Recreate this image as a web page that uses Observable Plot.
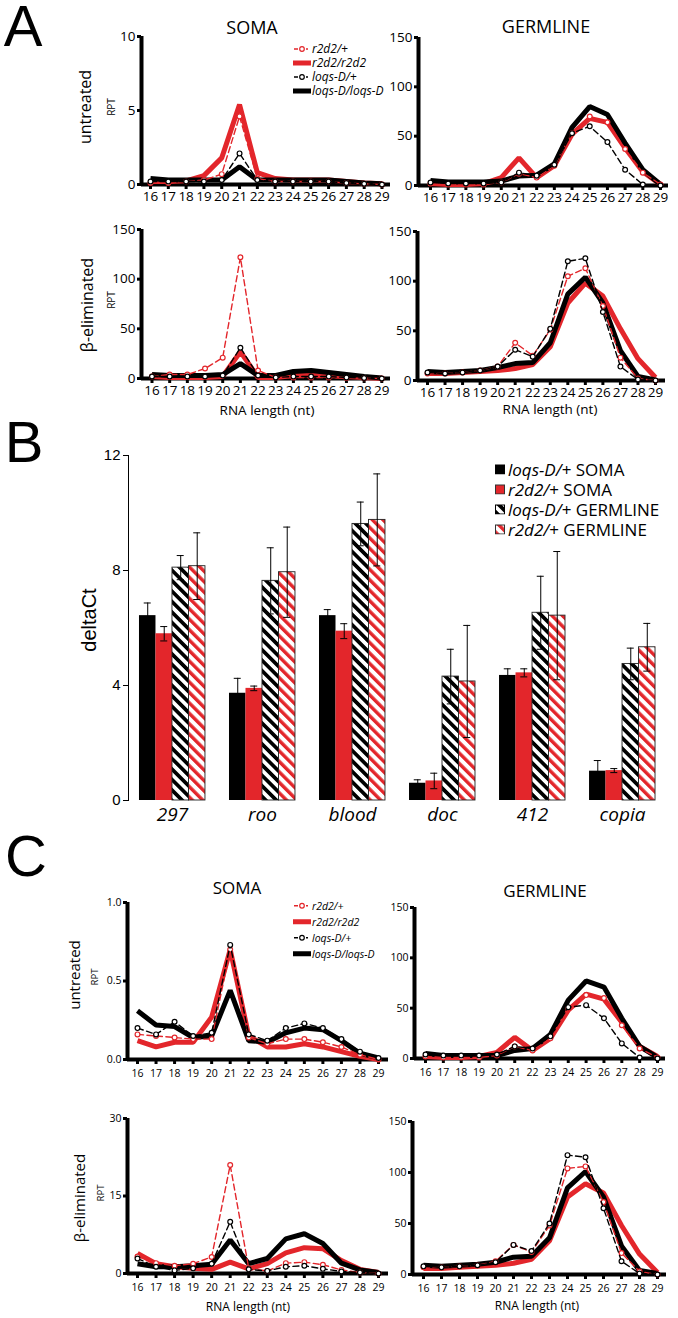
<!DOCTYPE html>
<html><head><meta charset="utf-8">
<script src="https://cdn.jsdelivr.net/npm/d3@7"></script>
<script src="https://cdn.jsdelivr.net/npm/@observablehq/plot@0.6"></script>
<style>
body{margin:0;background:#fff;}
#root{position:relative;width:678px;height:1318px;overflow:hidden;font-family:"Open Sans",sans-serif;color:#000;background:#fff;}
.lbl{position:absolute;white-space:nowrap;line-height:1;}
.row{position:absolute;display:flex;align-items:center;white-space:nowrap;line-height:1;transform:translateY(-50%);}
</style></head><body>
<svg width="0" height="0" style="position:absolute"><defs>
<pattern id="hatchK" patternUnits="userSpaceOnUse" width="7.4" height="7.4" patternTransform="rotate(-45)"><rect width="7.4" height="7.4" fill="#fff"/><rect width="3.7" height="7.4" fill="#000"/></pattern>
<pattern id="hatchR" patternUnits="userSpaceOnUse" width="7.4" height="7.4" patternTransform="rotate(-45)"><rect width="7.4" height="7.4" fill="#fff"/><rect width="3.4" height="7.4" fill="#e3262b"/></pattern>
</defs></svg>
<div id="root"></div>
<script>
// ---------- DATA ----------
const lengths = [16,17,18,19,20,21,22,23,24,25,26,27,28,29];

// Panel A — SOMA, untreated
const aSomaUnt_r2d2Het = [0.1,0.1,0.2,0.3,0.7,4.6,0.4,0.2,0.2,0.2,0.2,0.1,0.05,0];
const aSomaUnt_r2d2Hom = [0.2,0.2,0.25,0.6,1.8,5.4,0.8,0.4,0.3,0.3,0.3,0.2,0.1,0.05];
const aSomaUnt_loqsHet = [0.2,0.2,0.2,0.2,0.3,2.1,0.3,0.2,0.2,0.2,0.2,0.1,0.05,0];
const aSomaUnt_loqsHom = [0.4,0.3,0.3,0.3,0.3,1.2,0.3,0.3,0.3,0.3,0.3,0.2,0.1,0.05];
// Panel A — GERMLINE, untreated
const aGermUnt_r2d2Het = [2,1,1,1,3,12,8,20,53,70,64,37,13,1];
const aGermUnt_r2d2Hom = [2,1,1,2,8,28,8,20,52,68,64,38,14,1];
const aGermUnt_loqsHet = [3,2,2,2,3,13,10,21,53,60,44,16,1,0];
const aGermUnt_loqsHom = [5,3.5,3.5,3.5,4.5,9.5,10.5,22,59,80,72,43,16,1];
// Panel A — SOMA, beta-eliminated
const aSomaBeta_r2d2Het = [2,4,4,10,21,122,8,1,1,1,1,0.5,0.3,0];
const aSomaBeta_r2d2Hom = [2,1,1,1,2,27,1,1,3,4,3,2,1,0];
const aSomaBeta_loqsHet = [2,2,2,2,3,31,3,1,2,2,2,1,0.5,0];
const aSomaBeta_loqsHom = [4,3,3,3,4,15,3,3,7,8,6,4,2,0.5];
// Panel A — GERMLINE, beta-eliminated
const aGermBeta_r2d2Het = [7,7,8,10,14,38,25,51,105,113,75,23,2,0];
const aGermBeta_r2d2Hom = [7,7,8,9,10,12,16,34,78,98,85,52,22,3];
const aGermBeta_loqsHet = [8,7,8,10,14,31,24,52,120,123,69,14,1,0];
const aGermBeta_loqsHom = [9,8,9,10,13,17,18,38,87,104,78,30,4,0.5];

// Panel B — deltaCt
const bCategories = ["297","roo","blood","doc","412","copia"];
const bLoqsSoma    = [6.43,3.73,6.43,0.6,4.35,1.02];
const bLoqsSomaErr = [0.44,0.52,0.21,0.12,0.23,0.37];
const bR2d2Soma    = [5.8,3.9,5.89,0.68,4.44,1.04];
const bR2d2SomaErr = [0.25,0.08,0.26,0.27,0.14,0.07];
const bLoqsGerm    = [8.1,7.64,9.62,4.31,6.53,4.75];
const bLoqsGermErr = [0.42,1.15,0.76,0.95,1.27,0.55];
const bR2d2Germ    = [8.15,7.94,9.76,4.14,6.43,5.33];
const bR2d2GermErr = [1.16,1.57,1.6,1.95,2.23,0.83];

// Panel C — SOMA, untreated
const cSomaUnt_r2d2Het = [0.16,0.15,0.14,0.13,0.13,0.7,0.14,0.1,0.13,0.13,0.11,0.08,0.03,0];
const cSomaUnt_r2d2Hom = [0.12,0.08,0.11,0.11,0.27,0.7,0.15,0.08,0.08,0.1,0.08,0.05,0.02,0];
const cSomaUnt_loqsHet = [0.2,0.16,0.24,0.15,0.17,0.73,0.16,0.12,0.2,0.23,0.2,0.13,0.05,0.01];
const cSomaUnt_loqsHom = [0.31,0.22,0.21,0.14,0.15,0.44,0.12,0.11,0.17,0.2,0.19,0.12,0.04,0.01];
// Panel C — GERMLINE, untreated
const cGermUnt_r2d2Het = [2,1,1,1,3,12,8,20,50,63,60,33,10,1];
const cGermUnt_r2d2Hom = [2,1,1,2,6,21,8,20,48,64,59,36,12,2];
const cGermUnt_loqsHet = [4,3,3,3,4,12,10,22,51,53,40,15,1,0];
const cGermUnt_loqsHom = [5,3,3,3,3,8,10,24,58,77,71,40,12,1];
// Panel C — SOMA, beta-eliminated
const cSomaBeta_r2d2Het = [3.3,2,1.5,1.9,3.2,21,1,0.5,2,2.2,1.7,0.7,0.2,0];
const cSomaBeta_r2d2Hom = [3.9,1.9,1.3,1,0.8,2.2,0.9,1.9,4,5,4.8,2.5,0.8,0.2];
const cSomaBeta_loqsHet = [2.9,1.3,0.6,1,1.9,10,0.8,0.5,1.3,1.5,0.9,0.4,0.2,0];
const cSomaBeta_loqsHom = [1.9,1.3,1.3,1.5,1.8,6.5,1.9,2.9,6.7,7.7,5.8,2,0.7,0.2];
// Panel C — GERMLINE, beta-eliminated
const cGermBeta_r2d2Het = [7,7,8,9,13,29,22,48,104,106,71,21,3,0];
const cGermBeta_r2d2Hom = [6,6,7,8,9,11,15,33,76,89,80,48,20,2];
const cGermBeta_loqsHet = [8,7,8,9,12,29,23,50,117,115,65,13,1,0];
const cGermBeta_loqsHom = [9,8,9,10,12,17,18,36,85,101,76,28,4,1];

const seriesNames = ["r2d2/+","r2d2/r2d2","loqs-D/+","loqs-D/loqs-D"];

// ---------- STYLE ----------
const RED = "#e3262b";
const root = document.getElementById("root");
const OS = '"Open Sans", sans-serif';
const AR = '"Liberation Sans", Arial, sans-serif';

function label(text, x, y, {size=13, family=OS, rotate=false, italic=false}={}) {
  const d = document.createElement("div");
  d.className = "lbl";
  d.textContent = text;
  Object.assign(d.style, {left: x+"px", top: y+"px", fontSize: size+"px", fontFamily: family,
    fontStyle: italic ? "italic" : "normal",
    transform: `translate(-50%,-50%)${rotate ? " rotate(-90deg)" : ""}`});
  root.appendChild(d);
}

function lineChart(o) {
  const s = (o.p29 - o.p16) / 13;
  const xd = [16 + (o.x0 - o.p16) / s, 29 + (o.x1 - o.p29) / s];
  const pad = {l: 42, r: 6, t: 10, b: 28};
  const mk = vals => lengths.map((len, i) => ({len, val: vals[i]}));
  const [het2, hom2, hetL, homL] = o.series.map(mk);
  const thick = (rows, c) => Plot.line(rows, {x: "len", y: "val", stroke: c, strokeWidth: o.lw, strokeLinejoin: "miter", strokeLinecap: "butt"});
  const dashed = (rows, c) => [
    Plot.line(rows, {x: "len", y: "val", stroke: c, strokeWidth: 1.4, strokeDasharray: "6,3.5", strokeLinejoin: "miter"}),
    Plot.dot(rows, {x: "len", y: "val", r: o.r, stroke: c, fill: "white", strokeWidth: 1.2})
  ];
  const svg = Plot.plot({
    width: o.x1 - o.x0 + pad.l + pad.r,
    height: o.yBot - o.yTop + pad.t + pad.b,
    marginLeft: pad.l, marginRight: pad.r, marginTop: pad.t, marginBottom: pad.b,
    style: {fontFamily: OS, fontSize: o.fs + "px", background: "transparent", overflow: "visible", color: "#000"},
    x: {domain: xd, label: null},
    y: {domain: [0, o.ymax], label: null},
    marks: [
      Plot.axisX(lengths, {tickSize: 5, strokeWidth: o.tw, tickPadding: o.xpad, fontSize: o.fs, label: null}),
      Plot.axisY(o.yticks, {tickSize: 4, strokeWidth: o.tw, tickPadding: 2, fontSize: o.fs, label: null, tickFormat: o.fmt || (d => d)}),
      Plot.ruleY([0], {x1: xd[0], x2: xd[1], strokeWidth: o.aw}),
      Plot.ruleX([xd[0]], {y1: 0, y2: o.ymax, strokeWidth: o.aw}),
      thick(hom2, RED),
      thick(homL, "#000"),
      ...dashed(het2, RED),
      ...dashed(hetL, "#000")
    ]
  });
  Object.assign(svg.style, {position: "absolute", left: (o.x0 - pad.l) + "px", top: (o.yTop - pad.t) + "px", maxWidth: "none"});
  root.appendChild(svg);
}

const A = {fs: 13.5, aw: 4, tw: 3, lw: 5, xpad: 2, r: 2.4};
const C = {fs: 10.5, aw: 4, tw: 3, lw: 5, xpad: 5, r: 2.4};
lineChart({...A, x0:141, x1:390, p16:150, p29:381.5, yTop:36, yBot:184, ymax:10, yticks:[0,5,10],
  series:[aSomaUnt_r2d2Het,aSomaUnt_r2d2Hom,aSomaUnt_loqsHet,aSomaUnt_loqsHom]});
lineChart({...A, x0:418, x1:668, p16:430, p29:660, yTop:37, yBot:185, ymax:150, yticks:[0,50,100,150],
  series:[aGermUnt_r2d2Het,aGermUnt_r2d2Hom,aGermUnt_loqsHet,aGermUnt_loqsHom]});
lineChart({...A, x0:141, x1:390, p16:151.5, p29:381.3, yTop:229, yBot:378, ymax:150, yticks:[0,50,100,150],
  series:[aSomaBeta_r2d2Het,aSomaBeta_r2d2Hom,aSomaBeta_loqsHet,aSomaBeta_loqsHom]});
lineChart({...A, x0:417, x1:665, p16:427, p29:655, yTop:231, yBot:380, ymax:150, yticks:[0,50,100,150],
  series:[aGermBeta_r2d2Het,aGermBeta_r2d2Hom,aGermBeta_loqsHet,aGermBeta_loqsHom]});
lineChart({...C, x0:127, x1:388, p16:137, p29:378, yTop:902, yBot:1059, ymax:1, yticks:[0,0.5,1], fmt: d3.format(".1f"),
  series:[cSomaUnt_r2d2Het,cSomaUnt_r2d2Hom,cSomaUnt_loqsHet,cSomaUnt_loqsHom]});
lineChart({...C, x0:414, x1:665, p16:425, p29:657, yTop:907, yBot:1058, ymax:150, yticks:[0,50,100,150],
  series:[cGermUnt_r2d2Het,cGermUnt_r2d2Hom,cGermUnt_loqsHet,cGermUnt_loqsHom]});
lineChart({...C, x0:127, x1:388, p16:137, p29:378, yTop:1118, yBot:1273, ymax:30, yticks:[0,15,30],
  series:[cSomaBeta_r2d2Het,cSomaBeta_r2d2Hom,cSomaBeta_loqsHet,cSomaBeta_loqsHom]});
lineChart({...C, x0:412, x1:666, p16:423, p29:657, yTop:1121, yBot:1274, ymax:150, yticks:[0,50,100,150],
  series:[cGermBeta_r2d2Het,cGermBeta_r2d2Hom,cGermBeta_loqsHet,cGermBeta_loqsHom]});

// ---------- PANEL B ----------
(function() {
  const W = 618, H = 400, ML = 68, MR = 12, MT = 15, MB = 40;
  const pi = 0.267, po = 0.122;
  const bw = (W - ML - MR) * (1 - pi) / (bCategories.length - pi + 2 * po);
  const sw = bw / 4;
  const groups = [
    {vals: bLoqsSoma, err: bLoqsSomaErr, fill: "#000", stroke: "none"},
    {vals: bR2d2Soma, err: bR2d2SomaErr, fill: RED, stroke: "none"},
    {vals: bLoqsGerm, err: bLoqsGermErr, fill: "url(#hatchK)", stroke: "#222"},
    {vals: bR2d2Germ, err: bR2d2GermErr, fill: "url(#hatchR)", stroke: "#222"}
  ];
  const bars = [], errs = [];
  groups.forEach((g, k) => {
    const rows = bCategories.map((c, i) => ({cat: c, v: g.vals[i], lo: g.vals[i] - g.err[i], hi: g.vals[i] + g.err[i]}));
    bars.push(Plot.barY(rows, {x: "cat", y: "v", fill: g.fill, stroke: g.stroke, strokeWidth: 0.9,
      insetLeft: k * sw, insetRight: (3 - k) * sw}));
    const capL = k * sw + sw / 2 - 3.5, capR = (3 - k) * sw + sw / 2 - 3.5;
    errs.push(
      Plot.ruleX(rows, {x: "cat", y1: "lo", y2: "hi", dx: (k - 1.5) * sw, stroke: "#000", strokeWidth: 1}),
      Plot.tickY(rows, {x: "cat", y: "hi", insetLeft: capL, insetRight: capR, stroke: "#000", strokeWidth: 1}),
      Plot.tickY(rows, {x: "cat", y: "lo", insetLeft: capL, insetRight: capR, stroke: "#000", strokeWidth: 1})
    );
  });
  const svg = Plot.plot({
    width: W, height: H, marginLeft: ML, marginRight: MR, marginTop: MT, marginBottom: MB,
    style: {fontFamily: AR, fontSize: "15px", background: "transparent", overflow: "visible", color: "#000"},
    x: {domain: bCategories, paddingInner: pi, paddingOuter: po, round: false, axis: null},
    y: {domain: [0, 12], ticks: [0, 4, 8, 12], tickSize: 5, tickPadding: 3, line: true, label: null},
    marks: [
      ...bars, ...errs,
      Plot.text(bCategories, {x: d => d, text: d => d, frameAnchor: "bottom", dy: 20, fontSize: 19,
        fontStyle: "italic", fontFamily: OS})
    ]
  });
  Object.assign(svg.style, {position: "absolute", left: "60px", top: "440px", maxWidth: "none"});
  root.appendChild(svg);
})();

// ---------- TEXT ----------
label("A", 23, 26, {size: 58, family: AR});
label("B", 24, 442, {size: 58, family: AR});
label("C", 26, 856, {size: 58, family: AR});

label("SOMA", 252, 27, {size: 18});
label("GERMLINE", 546, 26, {size: 18});
label("untreated", 85, 107, {size: 16, rotate: true});
label("RPT", 111, 107, {size: 10, rotate: true});
label("β-eliminated", 87, 305, {size: 16, rotate: true});
label("RPT", 111, 300, {size: 10, rotate: true});
label("RNA length (nt)", 267, 411, {size: 13.5});
label("RNA length (nt)", 550, 410, {size: 13.5});

label("deltaCt", 89, 620, {size: 20, family: AR, rotate: true});

label("SOMA", 237, 887, {size: 17});
label("GERMLINE", 545, 890, {size: 17});
label("untreated", 74, 975, {size: 15, rotate: true});
label("RPT", 95, 977, {size: 9.5, rotate: true});
label("β-eliminated", 79, 1198, {size: 15, rotate: true});
label("RPT", 101, 1193, {size: 9.5, rotate: true});
label("RNA length (nt)", 248, 1307, {size: 12});
label("RNA length (nt)", 537, 1306, {size: 12});

// ---------- LEGENDS ----------
function lineLegend(x, y0, dy, size) {
  const styles = [
    {c: RED, dashed: true}, {c: RED, dashed: false}, {c: "#000", dashed: true}, {c: "#000", dashed: false}
  ];
  seriesNames.forEach((name, i) => {
    const s = styles[i];
    const row = document.createElement("div");
    row.className = "row";
    Object.assign(row.style, {left: x + "px", top: (y0 + i * dy) + "px", fontSize: size + "px", fontStyle: "italic"});
    const sw = s.dashed
      ? `<svg width="18" height="10" style="margin-right:1px"><line x1="1" x2="15" y1="5" y2="5" stroke="${s.c}" stroke-width="1.3" stroke-dasharray="4,2"/><circle cx="9" cy="5" r="2.3" fill="#fff" stroke="${s.c}" stroke-width="1.2"/></svg>`
      : `<svg width="18" height="10" style="margin-right:1px"><rect x="0" y="2.5" width="18" height="5" fill="${s.c}"/></svg>`;
    row.innerHTML = sw + `<span>${name}</span>`;
    root.appendChild(row);
  });
}
lineLegend(293, 49, 14, 12);
lineLegend(293, 906, 16, 10.5);

const bLegend = [
  {fill: "#000", stroke: "#000", html: "<i>loqs-D/</i>+ SOMA"},
  {fill: RED, stroke: "#333", html: "<i>r2d2/</i>+ SOMA"},
  {fill: "url(#hatchK)", stroke: "#000", html: "<i>loqs-D/</i>+ GERMLINE"},
  {fill: "url(#hatchR)", stroke: "#333", html: "<i>r2d2/</i>+ GERMLINE"}
];
bLegend.forEach((e, i) => {
  const row = document.createElement("div");
  row.className = "row";
  Object.assign(row.style, {left: "495px", top: (469 + i * 20) + "px", fontSize: "17px"});
  row.innerHTML = `<svg width="11" height="11" style="margin-right:2px"><rect x="0.5" y="1.5" width="9" height="9" fill="${e.fill}" stroke="${e.stroke}" stroke-width="1"/></svg><span>${e.html}</span>`;
  root.appendChild(row);
});
</script>
</body></html>
